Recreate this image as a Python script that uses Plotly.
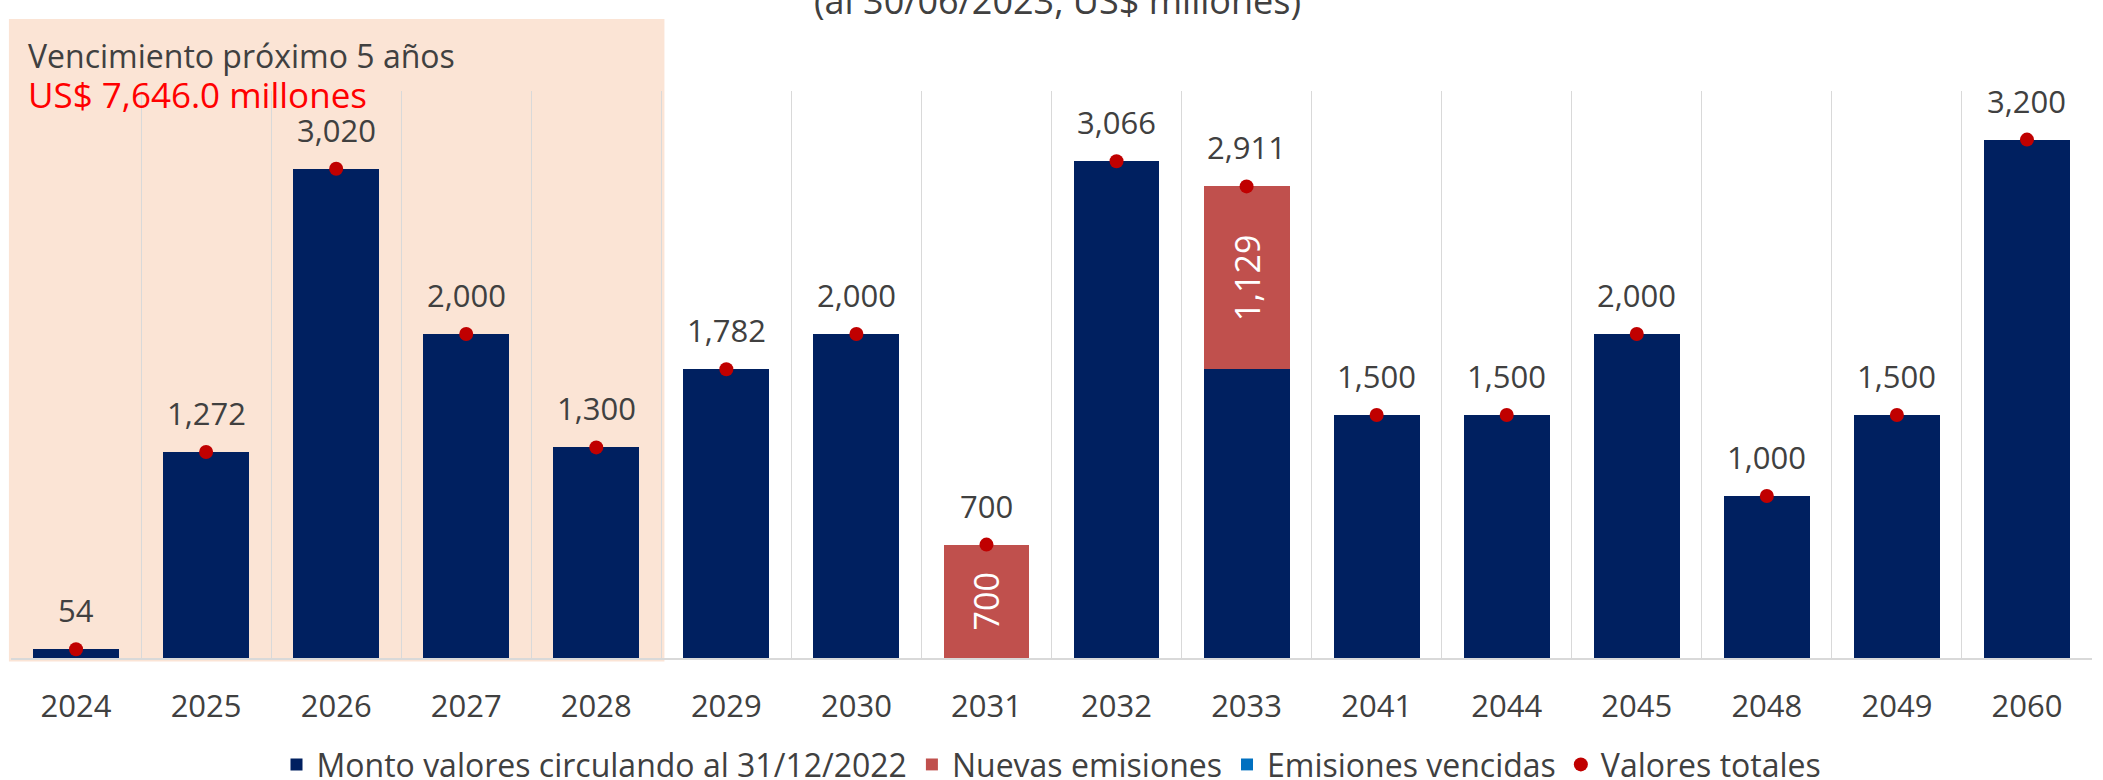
import plotly.graph_objects as go

years = ["2024", "2025", "2026", "2027", "2028", "2029", "2030", "2031",
         "2032", "2033", "2041", "2044", "2045", "2048", "2049", "2060"]
monto = [54, 1272, 3020, 2000, 1300, 1782, 2000, 0,
         3066, 1782, 1500, 1500, 2000, 1000, 1500, 3200]
nuevas = [0, 0, 0, 0, 0, 0, 0, 700, 0, 1129, 0, 0, 0, 0, 0, 0]
vencidas = [0] * 16
totales = [54, 1272, 3020, 2000, 1300, 1782, 2000, 700,
           3066, 2911, 1500, 1500, 2000, 1000, 1500, 3200]

FONT = "Open Sans"
TXT = "#404040"
FS = 31

fig = go.Figure()
fig.add_trace(go.Bar(x=years, y=monto, name="Monto valores circulando al 31/12/2022",
                     marker=dict(color="#002060", line=dict(width=0))))
fig.add_trace(go.Bar(x=years, y=nuevas, name="Nuevas emisiones",
                     marker=dict(color="#C0504D", line=dict(width=0)),
                     text=[f"{v:,}" if v else "" for v in nuevas],
                     textposition="inside", insidetextanchor="middle",
                     textangle=-90, constraintext="none",
                     textfont=dict(color="white", size=34, family=FONT)))
fig.add_trace(go.Bar(x=years, y=vencidas, name="Emisiones vencidas",
                     marker=dict(color="#0070C0", line=dict(width=0))))
fig.add_trace(go.Scatter(x=years, y=totales, name="Valores totales", mode="markers",
                         marker=dict(color="#C00000", size=14)))

for i, v in enumerate(totales):
    fig.add_annotation(x=i, y=v, text=f"{v:,}", showarrow=False,
                       yanchor="bottom", yshift=16,
                       font=dict(size=FS, color=TXT, family=FONT))

# shaded "próximo 5 años" region
fig.add_shape(type="rect", xref="paper", yref="paper", x0=-0.001, x1=0.314,
              y0=-0.006, y1=1.127, fillcolor="#FBE4D5", line=dict(width=0),
              layer="below")
fig.add_annotation(xref="paper", yref="paper", x=0.007, y=1.063, xanchor="left",
                   yanchor="middle", showarrow=False,
                   text="Vencimiento próximo 5 años",
                   font=dict(size=32, color=TXT, family=FONT))
fig.add_annotation(xref="paper", yref="paper", x=0.007, y=0.993, xanchor="left",
                   yanchor="middle", showarrow=False,
                   text="US$ 7,646.0 millones",
                   font=dict(size=35, color="#FF0000", family=FONT))
fig.add_annotation(xref="paper", yref="paper", x=0.503, y=1.159, xanchor="center",
                   yanchor="middle", showarrow=False,
                   text="(al 30/06/2023, US$ millones)",
                   font=dict(size=36, color=TXT, family=FONT))

fig.update_layout(
    width=2103, height=780,
    margin=dict(l=11, r=11, t=91, b=122, autoexpand=False),
    barmode="stack", bargap=0.34,
    plot_bgcolor="rgba(0,0,0,0)", paper_bgcolor="white",
    font=dict(family=FONT, color=TXT, size=FS),
    showlegend=True,
    legend=dict(orientation="h", x=0.5, xanchor="center", y=-0.188, yanchor="middle",
                font=dict(size=32, color=TXT, family=FONT), traceorder="normal",
                itemwidth=30, bgcolor="rgba(0,0,0,0)"),
    xaxis=dict(type="category", range=[-0.5, 15.5], tickson="boundaries", showgrid=True,
               gridcolor="#D9D9D9", gridwidth=1, ticks="", showline=True,
               linecolor="#D9D9D9", linewidth=2, ticklabelstandoff=20,
               tickfont=dict(size=FS, color=TXT, family=FONT)),
    yaxis=dict(range=[0, 3500], showgrid=False, showticklabels=False,
               zeroline=False, showline=False),
)

fig.write_html("out.html", config={"displayModeBar": False},
               post_script="document.body.style.margin='0';")
